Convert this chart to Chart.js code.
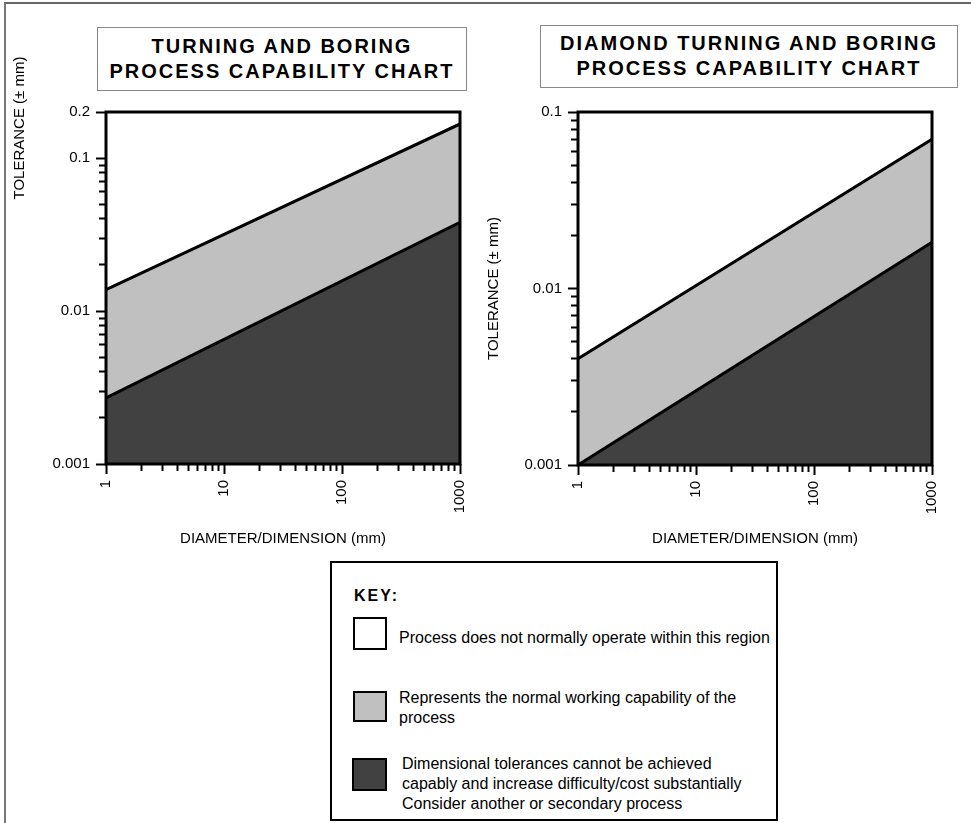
<!DOCTYPE html>
<html>
<head>
<meta charset="utf-8">
<script src="https://cdn.jsdelivr.net/npm/chart.js@4.4.1/dist/chart.umd.min.js"></script>
<style>
  html, body { margin: 0; padding: 0; background: #fff; }
  body { width: 971px; height: 823px; position: relative; overflow: hidden;
         font-family: "Liberation Sans", Arial, Helvetica, sans-serif; color: #000; }
  #frame { position: absolute; left: 4px; top: 2px; width: 970px; height: 830px;
           border-left: 2px solid #777; border-top: 2px solid #666; }
  .ttl { position: absolute; box-sizing: border-box; border: 1px solid #888; background: #fff;
         text-align: center; font-weight: bold; font-size: 20px; letter-spacing: 2px; line-height: 25px; }
  .plot { position: absolute; }
  #key { position: absolute; left: 330px; top: 561px; width: 448px; height: 260px;
         box-sizing: border-box; border: 2px solid #000; background: #fff; font-size: 16px; }
  #key .k { position: absolute; line-height: 20px; white-space: nowrap; }
  #key .sw { position: absolute; box-sizing: border-box; border: 2px solid #000; }
</style>
</head>
<body>
<div id="frame"></div>

<div class="ttl" style="left:97px;top:27px;width:370px;height:64px;padding-top:6px">TURNING AND BORING<br>PROCESS CAPABILITY CHART</div>
<div class="ttl" style="left:540px;top:25px;width:418px;height:63px;padding-top:5px">DIAMOND TURNING AND BORING<br>PROCESS CAPABILITY CHART</div>

<div class="plot" style="left:0;top:40px;width:480px;height:520px"><canvas id="turning"></canvas></div>
<div class="plot" style="left:480px;top:100px;width:491px;height:460px"><canvas id="diamond"></canvas></div>

<div id="key">
  <div class="k" style="left:22px;top:23px;font-weight:bold;font-size:16px;letter-spacing:2px">KEY:</div>
  <div class="sw" style="left:21px;top:54px;width:34px;height:33px;background:#fff"></div>
  <div class="k" style="left:67px;top:65px">Process does not normally operate within this region</div>
  <div class="sw" style="left:21px;top:128px;width:34px;height:31px;background:#c0c0c0"></div>
  <div class="k" style="left:67px;top:125px">Represents the normal working capability of the<br>process</div>
  <div class="sw" style="left:20px;top:195px;width:35px;height:33px;background:#414141"></div>
  <div class="k" style="left:70px;top:191px">Dimensional tolerances cannot be achieved<br>capably and increase difficulty/cost substantially<br>Consider another or secondary process</div>
</div>

<script>
/* data: tolerance band edges at diameter 1 mm and 1000 mm */
var DIAMETER = [1, 1000];
var TURN_LOWER = [0.0027, 0.038];
var TURN_UPPER = [0.0138, 0.167];
var DIAMOND_LOWER = [0.001, 0.0183];
var DIAMOND_UPPER = [0.004, 0.070];

/* labelled ticks */
var X_LABELS = [1, 10, 100, 1000];
var TURN_Y_LABELS = [0.001, 0.01, 0.1, 0.2];
var DIAMOND_Y_LABELS = [0.001, 0.01, 0.1];

var Y_TITLE = 'TOLERANCE (\u00b1 mm)';
var X_TITLE = 'DIAMETER/DIMENSION (mm)';
var FONT = '"Liberation Sans", Arial, Helvetica, sans-serif';
var LIGHT = '#c0c0c0', DARK = '#414141';

// 1,2,...,9 in every decade between lo and hi, plus the labelled extras
function logTicks(lo, hi, extra) {
  var out = [];
  function add(v) { v = +v.toPrecision(3); if (v >= lo && v <= hi && out.indexOf(v) === -1) { out.push(v); } }
  for (var d = lo; d < hi; d *= 10) {
    for (var s = 1; s < 10; s++) { add(s * d); }
  }
  add(hi);
  extra.forEach(add);
  return out.sort(function (a, b) { return a - b; });
}

function pts(ys) {
  return DIAMETER.map(function (x, i) { return { x: x, y: ys[i] }; });
}

/* thick black box round the plot area */
var frameBox = {
  id: 'frameBox',
  afterDatasetsDraw: function (chart) {
    var a = chart.chartArea, ctx = chart.ctx;
    ctx.save();
    ctx.strokeStyle = '#000';
    ctx.lineWidth = 3;
    ctx.strokeRect(a.left, a.top, a.right - a.left, a.bottom - a.top);
    ctx.restore();
  }
};

/* y title placed freely (the left chart has it up near the top, off the axis centre) */
var sideTitle = {
  id: 'sideTitle',
  afterDraw: function (chart, args, opts) {
    if (!opts || !opts.text) { return; }
    var ctx = chart.ctx;
    ctx.save();
    ctx.translate(opts.x, opts.y);
    ctx.rotate(-Math.PI / 2);
    ctx.font = '15px ' + FONT;
    ctx.fillStyle = '#000';
    ctx.textAlign = 'center';
    ctx.textBaseline = 'middle';
    ctx.fillText(opts.text, 0, 0);
    ctx.restore();
  }
};

function draw(id, lower, upper, yMax, yLabels, cfg) {
  var yTicks = logTicks(0.001, yMax, yLabels);
  var xTicks = logTicks(1, 1000, X_LABELS);
  // minor ticks are shorter: dash away the outer part of the 10px tick
  // (left axis ticks run outer->inner, bottom axis ticks run inner->outer)
  function yDash(c) { return c.tick && yLabels.indexOf(c.tick.value) === -1 ? [0, 3, 7, 30] : []; }
  function xDash(c) { return c.tick && X_LABELS.indexOf(c.tick.value) === -1 ? [7, 30] : []; }
  new Chart(document.getElementById(id), {
    type: 'line',
    data: {
      datasets: [
        { data: pts(lower), borderColor: '#000', borderWidth: 3, backgroundColor: DARK, fill: 'start', pointRadius: 0 },
        { data: pts(upper), borderColor: '#000', borderWidth: 3, backgroundColor: LIGHT, fill: '-1', pointRadius: 0 }
      ]
    },
    options: {
      responsive: true, maintainAspectRatio: false, animation: false,
      layout: { padding: { left: 0, top: cfg.padTop, right: cfg.padRight, bottom: 0 } },
      plugins: {
        legend: { display: false }, tooltip: { enabled: false },
        sideTitle: cfg.sideTitle || {}
      },
      scales: {
        x: {
          type: 'logarithmic', min: 1, max: 1000,
          border: { display: false },
          grid: { drawOnChartArea: false, tickLength: 10, tickWidth: 2, tickColor: '#000', tickBorderDash: xDash },
          afterBuildTicks: function (s) { s.ticks = xTicks.map(function (v) { return { value: v }; }); },
          afterFit: function (s) { s.height = cfg.xHeight; s.paddingLeft = 0; s.paddingRight = 0; },
          ticks: {
            autoSkip: false, minRotation: 90, maxRotation: 90, padding: 6,
            color: '#000', font: { family: FONT, size: 15 },
            callback: function (v) { return X_LABELS.indexOf(v) !== -1 ? String(v) : ''; }
          },
          title: { display: true, text: X_TITLE, color: '#000',
                   font: { family: FONT, size: 15 }, padding: { top: 0, bottom: 12 } }
        },
        y: {
          type: 'logarithmic', min: 0.001, max: yMax,
          border: { display: false },
          grid: { drawOnChartArea: false, tickLength: 10, tickWidth: 2, tickColor: '#000', tickBorderDash: yDash },
          afterBuildTicks: function (s) { s.ticks = yTicks.map(function (v) { return { value: v }; }); },
          afterFit: function (s) { s.width = cfg.yWidth; s.paddingTop = 0; s.paddingBottom = 0; },
          ticks: {
            autoSkip: false, padding: 6, color: '#000', font: { family: FONT, size: 15 },
            callback: function (v) { return yLabels.indexOf(v) !== -1 ? String(v) : ''; }
          },
          title: { display: !cfg.sideTitle, text: Y_TITLE, color: '#000',
                   font: { family: FONT, size: 15 }, padding: { top: 5, bottom: 0 } }
        }
      }
    },
    plugins: [frameBox, sideTitle]
  });
}

draw('turning', TURN_LOWER, TURN_UPPER, 0.2, TURN_Y_LABELS,
  { yWidth: 106, padTop: 72, padRight: 20, xHeight: 96, sideTitle: { text: Y_TITLE, x: 20, y: 88 } });
draw('diamond', DIAMOND_LOWER, DIAMOND_UPPER, 0.1, DIAMOND_Y_LABELS,
  { yWidth: 98, padTop: 12, padRight: 39, xHeight: 95 });
</script>
</body>
</html>
